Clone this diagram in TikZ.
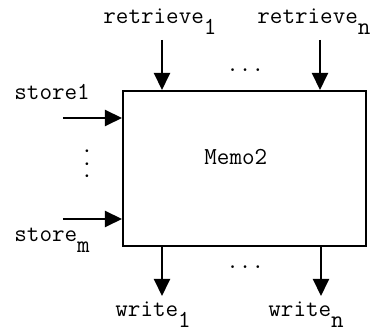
\documentclass[tikz,border=0pt]{standalone}
\usepackage{fontspec}
\usetikzlibrary{arrows.meta,positioning,calc}
\newcommand{\lowsub}[1]{\raisebox{-5.5pt}{#1}}

\begin{document}
\begin{tikzpicture}[x=0.5pt,y=-0.5pt,
    font=\ttfamily\fontsize{12.2}{14}\selectfont,
    sig/.style={line width=1pt,-{Triangle[length=8.5pt,width=8pt]}},
    lbl/.style={anchor=base west,inner sep=0pt}]
    \useasboundingbox (0,0) rectangle (371,336);
    % the module
    \node[draw,line width=1pt,minimum width=121.5pt,minimum height=77.5pt,inner sep=0pt]
      (memo) at (244.5,168.5) {};
    \node[lbl] (memotext) at (204,165) {Memo2};
    % inputs from above
    \coordinate (r1) at (162,40);
    \coordinate (rn) at (320,40);
    \draw[sig] (r1) -- (r1 |- memo.north);
    \draw[sig] (rn) -- (rn |- memo.north);
    \node[lbl] (ret1) at (103,24) {retrieve\lowsub{1}};
    \node[lbl] (retn) at (257,24) {retrieve\lowsub{n}};
    \node[lbl] (topdots) at (226,72) {...};
    % inputs from the left
    \coordinate (s1) at (63,118);
    \coordinate (sm) at (63,219);
    \draw[sig] (s1) -- (s1 -| memo.west);
    \draw[sig] (sm) -- (sm -| memo.west);
    \node[lbl] (store1) at (14,100) {store1};
    \node[lbl] (storem) at (14,242) {store\lowsub{m}};
    \node[rotate=90] (leftdots) at (87,164) {...};
    % outputs below
    \coordinate (w1) at (162,296);
    \coordinate (wn) at (321,296);
    \draw[sig] (w1 |- memo.south) -- (w1);
    \draw[sig] (wn |- memo.south) -- (wn);
    \node[lbl] (write1) at (115,317) {write\lowsub{1}};
    \node[lbl] (writen) at (268,317) {write\lowsub{n}};
    \node[lbl] (botdots) at (226,269) {...};
  \end{tikzpicture}
\end{document}
